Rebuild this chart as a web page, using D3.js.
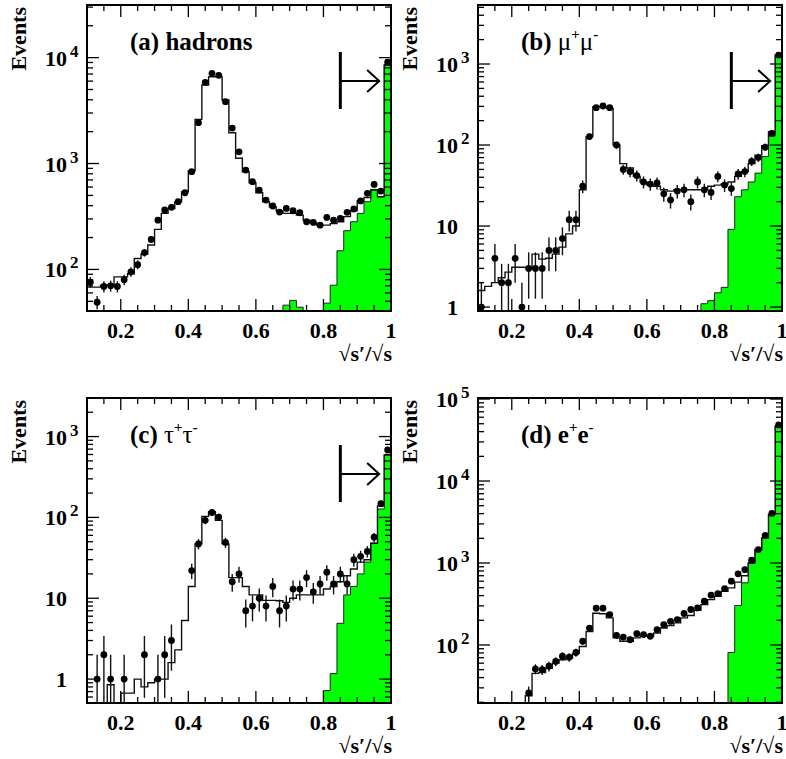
<!DOCTYPE html>
<html>
<head>
<meta charset="utf-8">
<script src="https://cdn.jsdelivr.net/npm/d3@7"></script>
<style>
  body { margin: 0; background: #fff; }
  text { font-family: "Liberation Serif", "Times New Roman", serif; font-weight: bold; fill: #000; }
</style>
</head>
<body>
<svg id="chart" width="786" height="759"></svg>
<script>
// bin centres of sqrt(s')/sqrt(s), 45 bins of width 0.02
const binCenters = [0.11,0.13,0.15,0.17,0.19,0.21,0.23,0.25,0.27,0.29,0.31,0.33,0.35,0.37,0.39,
                    0.41,0.43,0.45,0.47,0.49,0.51,0.53,0.55,0.57,0.59,0.61,0.63,0.65,0.67,0.69,
                    0.71,0.73,0.75,0.77,0.79,0.81,0.83,0.85,0.87,0.89,0.91,0.93,0.95,0.97,0.99];
const binWidth = 0.02;
const xTicks = [0.2, 0.4, 0.6, 0.8, 1];

// (a) hadrons
const hadData = [76,49,69,70,69, 80,95,111,144,192, 292,364,386,436,530, 837,2430,5850,7110,6810,
                 3840,2160,1290,868,674, 562,452,397,348,377, 358,343,282,278,262, 310,292,303,346,372,
                 443,523,635,549,9040];
const hadMC   = [68,68,71,71,85, 85,91,127,140,170, 239,338,376,436,540, 855,2610,5520,6600,6600,
                 3980,1955,1120,837,659, 530,436,391,358,338, 338,326,292,275,262, 262,271,282,315,358,
                 446,478,562,486,8530];
const hadSig  = [0,0,0,0,0, 0,0,0,0,0, 0,0,0,0,0, 0,0,0,0,0, 0,0,0,0,0, 0,0,0,41,46,
                 51,44,0,0,0, 48,71,150,232,282, 338,436,570,486,8530];

// (b) mu+ mu-
const muData = [1,0,4,2,2, 4,1,3,3,3, 5,5,7,12,12, 31,127,289,303,289, 100,50,47,42,35,
                33,34,25,21,27, 28,20,35,28,26, 41,32,29,44,47, 63,70,94,139,1290];
const muMC   = [1.6,1.8,2.0,2.3,2.7, 3.1,3.1,3.1,4.5,3.9, 4.0,4.5,5.5,8,10, 28,127,297,297,283,
                100,59,52,41,35, 32,31,28,27,28, 28,28,28,28,31, 32,33,35,41,47, 59,75,98,146,1290];
const muSig  = [0,0,0,0,0, 0,0,0,0,0, 0,0,0,0,0, 0,0,0,0,0, 0,0,0,0,0, 0,0,0,0,0,
                0,0,0,1.1,1.2, 1.5,1.75,9.1,23,28, 35,45,72,129,1290];

// (c) tau+ tau-
const tauData = [0,1,2,1,0, 1,0,0,2,0, 1,2,3,0,0, 22,47,92,115,101, 49,16,20,7,8,
                 10,8,14,7,8, 13,13,18,12,15, 21,15,20,15,30, 33,38,57,148,684];
const tauMC   = [0,0,0,0.85,0, 0.67,0.67,1.0,0.8,0.9, 1.0,1.0,1.6,2.3,5.3, 14,47,103,118,92,
                 47,18,18,14,11, 11,9.4,9.4,9.3,8.9, 10,11,11,11,11, 13,14,16,19,23, 28,30,48,139,594];
const tauSig  = [0,0,0,0,0, 0,0,0,0,0, 0,0,0,0,0, 0,0,0,0,0, 0,0,0,0,0, 0,0,0,0,0,
                 0,0,0,0,0, 0.72,1.17,4.9,11,14, 20,28,48,127,594];

// (d) e+ e-
const eeData = [0,0,0,0,0, 0,0,26,51,50, 55,63,73,71,81, 111,161,281,281,235, 131,125,116,137,134,
                128,154,177,194,204, 242,271,283,342,405, 424,488,600,738,830, 1080,1460,2170,4030,48300];
const eeMC   = [0,0,0,0,0, 0,0,24,45,46, 52,60,66,69,79, 96,146,244,240,214, 122,111,111,122,128,
                128,140,161,172,186, 214,229,265,311,358, 393,453,498,584,700, 1000,1460,2030,3920,47000];
const eeSig  = [0,0,0,0,0, 0,0,0,0,0, 0,0,0,0,0, 0,0,0,0,0, 0,0,0,0,0,
                0,0,0,0,0, 0,0,0,0,0, 0,0,81,303,573, 1000,1460,2030,3920,47000];

const panels = [
  { data: hadData, mc: hadMC, sig: hadSig, ymin: 40.5, ymax: 31400, decades: [2,3,4],
    box: [87, 5, 391, 311], arrow: true, title: [["(a) hadrons", false]] },
  { data: muData, mc: muMC, sig: muSig, ymin: 0.894, ymax: 5350, decades: [0,1,2,3],
    box: [478, 5, 782, 311], arrow: true,
    title: [["(b) ", false], ["\u03bc", false, true], ["+", true], ["\u03bc", false, true], ["-", true]] },
  { data: tauData, mc: tauMC, sig: tauSig, ymin: 0.506, ymax: 3000, decades: [0,1,2,3],
    box: [87, 398, 391, 703], arrow: true,
    title: [["(c) ", false], ["\u03c4", false, true], ["+", true], ["\u03c4", false, true], ["-", true]] },
  { data: eeData, mc: eeMC, sig: eeSig, ymin: 19.6, ymax: 103000, decades: [2,3,4,5],
    box: [478, 398, 782, 703], arrow: false,
    title: [["(d) e", false], ["+", true], ["e", false], ["-", true]] }
];

const svg = d3.select("#chart");

panels.forEach((p, k) => {
  const [x0, y0, x1, y1] = p.box;
  const x = d3.scaleLinear().domain([0.1, 1]).range([x0, x1]);
  const y = d3.scaleLog().domain([p.ymin, p.ymax]).range([y1, y0]).clamp(true);
  const yv = v => y(v > 0 ? v : 1e-6);

  const g = svg.append("g");
  const clipId = "clip" + k;
  g.append("clipPath").attr("id", clipId)
    .append("rect").attr("x", x0).attr("y", y0).attr("width", x1 - x0).attr("height", y1 - y0);
  const plot = g.append("g").attr("clip-path", `url(#${clipId})`);

  // step points for histograms
  const steps = vals => {
    const pts = [];
    binCenters.forEach((c, i) => {
      pts.push([c - binWidth / 2, vals[i]]);
      pts.push([c + binWidth / 2, vals[i]]);
    });
    return pts;
  };

  // green signal histogram
  plot.append("path")
    .datum(steps(p.sig))
    .attr("fill", "#00ff00")
    .attr("stroke", "#222")
    .attr("stroke-width", 1)
    .attr("d", d3.area().x(d => x(d[0])).y0(y1 + 2).y1(d => yv(d[1])));

  // MC step line
  plot.append("path")
    .datum(steps(p.mc))
    .attr("fill", "none")
    .attr("stroke", "#111")
    .attr("stroke-width", 1.4)
    .attr("d", d3.line().x(d => x(d[0])).y(d => yv(d[1])));

  // data points with statistical (sqrt N) error bars
  const pts = binCenters.map((c, i) => ({ c, n: p.data[i] })).filter(d => d.n > 0);
  plot.selectAll(".err").data(pts).enter().append("line")
    .attr("x1", d => x(d.c)).attr("x2", d => x(d.c))
    .attr("y1", d => yv(d.n + Math.sqrt(d.n)))
    .attr("y2", d => yv(d.n - Math.sqrt(d.n)))
    .attr("stroke", "#111").attr("stroke-width", 1.4);
  plot.selectAll(".pt").data(pts).enter().append("circle")
    .attr("cx", d => x(d.c)).attr("cy", d => yv(d.n)).attr("r", 3.4)
    .attr("fill", "#000");

  // frame
  g.append("rect").attr("x", x0).attr("y", y0).attr("width", x1 - x0).attr("height", y1 - y0)
    .attr("fill", "none").attr("stroke", "#000").attr("stroke-width", 2);

  // x ticks (major 0.2, minor 0.05) top and bottom
  const xMinor = d3.range(0.15, 1.0, 0.05);
  const tickG = g.append("g").attr("stroke", "#000").attr("stroke-width", 1.3);
  xMinor.forEach(v => {
    const isMajor = xTicks.some(t => Math.abs(t - v) < 1e-6);
    const len = isMajor ? 12 : 6;
    tickG.append("line").attr("x1", x(v)).attr("x2", x(v)).attr("y1", y1).attr("y2", y1 - len);
    tickG.append("line").attr("x1", x(v)).attr("x2", x(v)).attr("y1", y0).attr("y2", y0 + len);
  });
  // y log ticks left and right
  const [lo, hi] = [Math.floor(Math.log10(p.ymin)), Math.ceil(Math.log10(p.ymax))];
  for (let e = lo; e <= hi; e++) {
    for (let m = 1; m <= 9; m++) {
      const v = m * Math.pow(10, e);
      if (v < p.ymin || v > p.ymax) continue;
      const len = m === 1 ? 12 : 6;
      tickG.append("line").attr("x1", x0).attr("x2", x0 + len).attr("y1", y(v)).attr("y2", y(v));
      tickG.append("line").attr("x1", x1).attr("x2", x1 - len).attr("y1", y(v)).attr("y2", y(v));
    }
  }

  // x tick labels
  g.selectAll(".xl").data(xTicks).enter().append("text")
    .attr("x", d => x(d)).attr("y", y1 + 27)
    .attr("text-anchor", "middle").attr("font-size", 22)
    .text(d => d === 1 ? "1" : d.toFixed(1));

  // y tick labels 10^n
  p.decades.forEach(e => {
    const yy = y(Math.pow(10, e));
    const base = e === 0 ? "1" : "10";
    g.append("text").attr("x", x0 - 20).attr("y", yy + 8)
      .attr("text-anchor", "end").attr("font-size", 22).text(base);
    if (e > 1) {
      g.append("text").attr("x", x0 - 17).attr("y", yy - 1)
        .attr("font-size", 17).text(e);
    }
  });

  // axis titles
  g.append("text")
    .attr("transform", `translate(${x0 - 61},${y0 + 2}) rotate(-90)`)
    .attr("text-anchor", "end").attr("font-size", 22).text("Events");
  g.append("text").attr("x", x1 + 1).attr("y", y1 + 50)
    .attr("text-anchor", "end").attr("font-size", 22).text("\u221as\u2032/\u221as");

  // panel title, with superscript charges
  const t = g.append("text").attr("x", x0 + 43).attr("y", y0 + 45).attr("font-size", 25);
  let raised = false;
  p.title.forEach(([s, sup, normal]) => {
    let dy = 0;
    if (sup && !raised) dy = -11;
    if (!sup && raised) dy = 11;
    raised = sup;
    t.append("tspan")
      .attr("font-size", sup ? 15 : 25)
      .attr("dy", dy)
      .attr("font-weight", normal ? "normal" : "bold")
      .text(s);
  });

  // cut arrow
  if (p.arrow) {
    const ax = x(0.85), tip = x(0.965), ay = y0 + 76;
    const ag = g.append("g").attr("stroke", "#000").attr("fill", "none");
    ag.append("line").attr("x1", ax).attr("x2", ax).attr("y1", y0 + 47).attr("y2", y0 + 104)
      .attr("stroke-width", 3);
    ag.append("line").attr("x1", ax).attr("x2", tip).attr("y1", ay).attr("y2", ay)
      .attr("stroke-width", 2);
    ag.append("path").attr("d", `M${tip - 12},${ay - 11}L${tip},${ay}L${tip - 12},${ay + 11}`)
      .attr("stroke-width", 2);
  }
});
</script>
</body>
</html>
